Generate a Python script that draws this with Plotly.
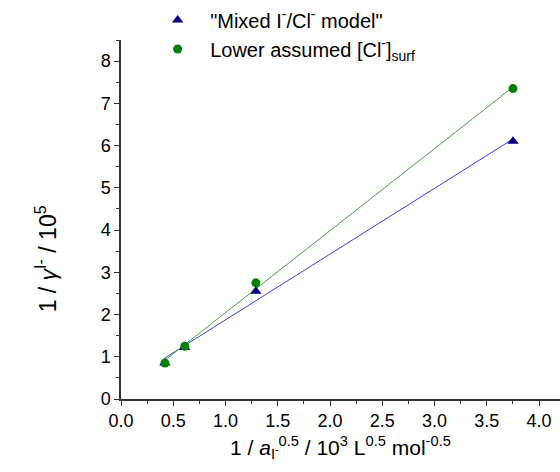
import numpy as np
import plotly.graph_objects as go

x_mixed = [0.42, 0.61, 1.29, 3.75]
y_mixed = [0.85, 1.22, 2.55, 6.10]
x_lower = [0.42, 0.61, 1.29, 3.75]
y_lower = [0.85, 1.25, 2.75, 7.35]

name_mixed = '"Mixed I<sup>-</sup>/Cl<sup>-</sup> model"'
name_lower = 'Lower assumed [Cl<sup>-</sup>]<sub>surf</sub>'
y_title = "1 / <i>γ</i><sup>I-</sup> / 10<sup>5</sup>"
x_title = "1 / <i>a</i><sub>I<sup>-</sup></sub><sup>0.5</sup> / 10<sup>3</sup> L<sup>0.5</sup> mol<sup>-0.5</sup>"

font = "Liberation Sans, Arial, sans-serif"

def fit(xs, ys):
    m, c = np.polyfit(xs, ys, 1)
    xe = [min(xs), max(xs)]
    return xe, [m * v + c for v in xe]

fig = go.Figure()
xf, yf = fit(x_mixed, y_mixed)
fig.add_trace(go.Scatter(x=xf, y=yf, mode="lines", line=dict(color="#3b3bea", width=1), showlegend=False))
xf, yf = fit(x_lower, y_lower)
fig.add_trace(go.Scatter(x=xf, y=yf, mode="lines", line=dict(color="#3fa33f", width=1), showlegend=False))
fig.add_trace(go.Scatter(x=x_mixed, y=y_mixed, mode="markers", name=name_mixed,
                         marker=dict(symbol="triangle-up", color="#000080", size=10)))
fig.add_trace(go.Scatter(x=x_lower, y=y_lower, mode="markers", name=name_lower,
                         marker=dict(symbol="circle", color="#008000", size=9)))

fig.add_annotation(text=y_title, textangle=-90, xref="paper", yref="paper",
                   x=-0.17, y=0.39, xanchor="center", yanchor="middle", showarrow=False,
                   font=dict(size=23))

fig.update_layout(
    width=560, height=472,
    margin=dict(l=121, r=0, t=40, b=73),
    plot_bgcolor="white", paper_bgcolor="white",
    font=dict(family=font, size=18, color="black"),
    legend=dict(x=0.055, y=1.11, xanchor="left", yanchor="top", bgcolor="rgba(0,0,0,0)",
                font=dict(size=20), tracegroupgap=0, itemsizing="trace", itemwidth=55),
    xaxis=dict(range=[0, 4.2], dtick=0.5, tickformat=".1f", showgrid=False, zeroline=False,
               showline=True, linecolor="#333", linewidth=1.5, ticks="outside", ticklen=5,
               tickcolor="#333", minor=dict(ticks="outside", ticklen=3, dtick=0.25, tickcolor="#333"),
               title=dict(text=x_title, font=dict(size=21), standoff=10)),
    yaxis=dict(range=[0, 8.5], dtick=1, showgrid=False, zeroline=False,
               showline=True, linecolor="#333", linewidth=1.5, ticks="outside", ticklen=5,
               tickcolor="#333", minor=dict(ticks="outside", ticklen=3, dtick=0.5, tickcolor="#333")),
)

fig.write_html("out.html")
